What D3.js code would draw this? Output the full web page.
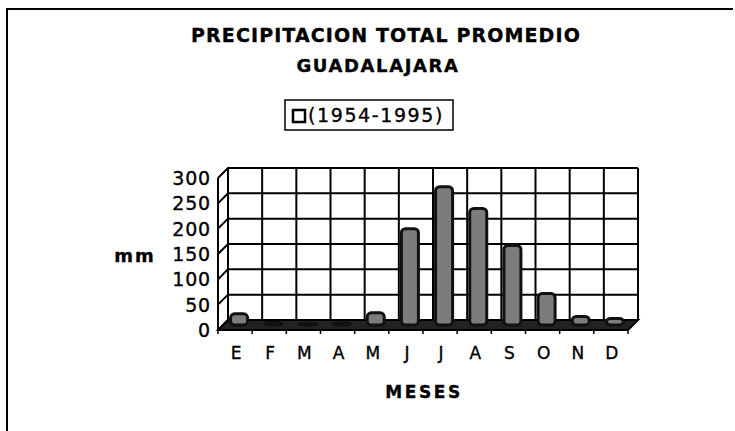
<!DOCTYPE html>
<html>
<head>
<meta charset="utf-8">
<script src="https://cdn.jsdelivr.net/npm/d3@7"></script>
<style>
  body { margin: 0; background: #fff; }
  text { font-family: "DejaVu Sans", Verdana, sans-serif; fill: #000; stroke: #000; stroke-width: 0.35px; }
</style>
</head>
<body>
<svg id="chart" width="735" height="431"></svg>
<script>
// data
var months = ["E", "F", "M", "A", "M", "J", "J", "A", "S", "O", "N", "D"];
var precip = [22, 5, 3, 4, 24, 190, 273, 230, 157, 62, 17, 13];
var yTicks = [0, 50, 100, 150, 200, 250, 300];
var seriesName = "(1954-1995)";

var svg = d3.select("#chart");

// frame (top + left edge only, as in the scan)
svg.append("path").attr("d", "M7,431 L7,9 L733,9")
  .attr("fill", "none").attr("stroke", "#000").attr("stroke-width", 2);

// titles
svg.append("text").attr("x", 386).attr("y", 42).attr("text-anchor", "middle")
  .style("font-weight", "bold").style("font-size", "19px").style("letter-spacing", "1.1px")
  .text("PRECIPITACION TOTAL PROMEDIO");
svg.append("text").attr("x", 378).attr("y", 72).attr("text-anchor", "middle")
  .style("font-weight", "bold").style("font-size", "18px").style("letter-spacing", "1.6px")
  .text("GUADALAJARA");

// legend
var lg = svg.append("g");
lg.append("rect").attr("x", 285).attr("y", 100).attr("width", 168).attr("height", 30)
  .attr("fill", "#fff").attr("stroke", "#000").attr("stroke-width", 1.5);
lg.append("rect").attr("x", 293).attr("y", 110).attr("width", 12).attr("height", 12)
  .attr("fill", "#fff").attr("stroke", "#000").attr("stroke-width", 2.5);
lg.append("text").attr("x", 308).attr("y", 122).style("font-size", "19px").style("letter-spacing", "1.6px")
  .text(seriesName);

// 3d geometry
var depth = 10;
var x = d3.scaleBand().domain(d3.range(months.length)).range([218, 628]).paddingInner(0);
var y = d3.scaleLinear().domain([0, 300]).range([330, 178]);
var x0 = x.range()[0], x1 = x.range()[1];

var g = svg.append("g");

// floor
g.append("path")
  .attr("d", "M" + x0 + "," + y(0) + " L" + x1 + "," + y(0) + " L" + (x1 + depth) + "," + (y(0) - depth) +
    " L" + (x0 + depth) + "," + (y(0) - depth) + " Z")
  .attr("fill", "#222").attr("stroke", "#000").attr("stroke-width", 2);

// horizontal gridlines: left wall + back wall
yTicks.forEach(function (t) {
  g.append("path")
    .attr("d", "M" + x0 + "," + y(t) + " L" + (x0 + depth) + "," + (y(t) - depth) + " L" + (x1 + depth) + "," + (y(t) - depth))
    .attr("fill", "none").attr("stroke", "#000").attr("stroke-width", 2);
});

// vertical gridlines on back wall
d3.range(months.length + 1).forEach(function (i) {
  var xx = x0 + i * x.bandwidth() + depth;
  g.append("line").attr("x1", xx).attr("x2", xx).attr("y1", y(0) - depth).attr("y2", y(300) - depth)
    .attr("stroke", "#000").attr("stroke-width", 2);
});

// left wall front edge
g.append("line").attr("x1", x0).attr("x2", x0).attr("y1", y(0)).attr("y2", y(300))
  .attr("stroke", "#000").attr("stroke-width", 2);

// ticks under front floor edge
d3.range(months.length + 1).forEach(function (i) {
  var xx = x0 + i * x.bandwidth();
  g.append("line").attr("x1", xx).attr("x2", xx).attr("y1", y(0)).attr("y2", y(0) + 4)
    .attr("stroke", "#000").attr("stroke-width", 1.5);
});

// bars (cylinders sitting halfway into the depth)
var half = depth / 2;
var bw = 17;
g.selectAll(".bar").data(precip).enter().append("rect")
  .attr("class", "bar")
  .attr("x", function (d, i) { return x(i) + x.bandwidth() / 2 + half - bw / 2 - 1; })
  .attr("y", function (d) { return y(d) - half; })
  .attr("width", bw)
  .attr("height", function (d) { return y(0) - y(d); })
  .attr("rx", 4)
  .attr("fill", "#7c7c7c").attr("stroke", "#111").attr("stroke-width", 3);

// y axis labels
g.selectAll(".ylab").data(yTicks).enter().append("text")
  .attr("x", 211).attr("y", function (d) { return y(d) + 7; })
  .attr("text-anchor", "end").style("font-size", "19px").style("letter-spacing", "0.8px")
  .text(function (d) { return d; });

svg.append("text").attr("x", 135).attr("y", 262).attr("text-anchor", "middle")
  .style("font-weight", "bold").style("font-size", "18px").style("letter-spacing", "2px").text("mm");

// x axis labels
g.selectAll(".xlab").data(months).enter().append("text")
  .attr("x", function (d, i) { return x(i) + x.bandwidth() / 2 + 1; })
  .attr("y", 359).attr("text-anchor", "middle").style("font-size", "17px").text(function (d) { return d; });

svg.append("text").attr("x", 424).attr("y", 398).attr("text-anchor", "middle")
  .style("font-weight", "bold").style("font-size", "17px").style("letter-spacing", "2.6px").text("MESES");
</script>
</body>
</html>
